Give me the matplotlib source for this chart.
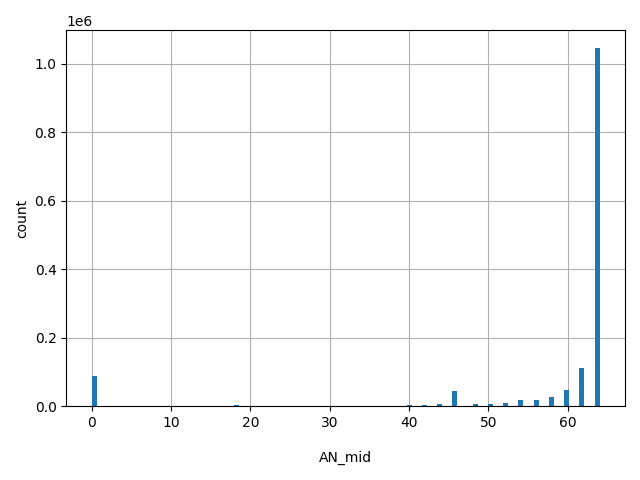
import matplotlib
matplotlib.use("Agg")
import matplotlib.pyplot as plt
import numpy as np

an_values = [0, 18, 40, 42, 44, 46, 48, 50, 52, 54, 56, 58, 60, 62, 64]
counts = [88000, 3000, 3000, 3000, 6000, 44000, 6000, 6000, 10000, 18000, 17000, 26000, 47000, 111000, 1046000]

fig, ax = plt.subplots(figsize=(6.4, 4.8), dpi=100)
ax.hist(an_values, bins=100, weights=counts, color="#1f77b4")
ax.grid(True)
ax.set_axisbelow(True)
ax.set_xlabel("AN_mid", labelpad=15)
ax.set_ylabel("count")
fig.tight_layout()
fig.savefig("out.png")
